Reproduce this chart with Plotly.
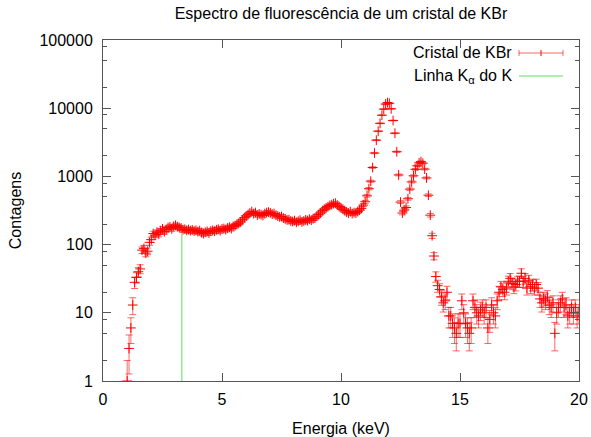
import numpy as np
import plotly.graph_objects as go

# Channel energies (keV) of the multichannel analyser
energia_kev = [
    1.016, 1.094, 1.172, 1.250, 1.328, 1.406, 1.484, 1.562,
    1.641, 1.719, 1.797, 1.875, 1.953, 2.031, 2.109, 2.188,
    2.266, 2.344, 2.422, 2.500, 2.578, 2.656, 2.734, 2.812,
    2.891, 2.969, 3.047, 3.125, 3.203, 3.281, 3.359, 3.438,
    3.516, 3.594, 3.672, 3.750, 3.828, 3.906, 3.984, 4.062,
    4.141, 4.219, 4.297, 4.375, 4.453, 4.531, 4.609, 4.688,
    4.766, 4.844, 4.922, 5.000, 5.078, 5.156, 5.234, 5.312,
    5.391, 5.469, 5.547, 5.625, 5.703, 5.781, 5.859, 5.938,
    6.016, 6.094, 6.172, 6.250, 6.328, 6.406, 6.484, 6.562,
    6.641, 6.719, 6.797, 6.875, 6.953, 7.031, 7.109, 7.188,
    7.266, 7.344, 7.422, 7.500, 7.578, 7.656, 7.734, 7.812,
    7.891, 7.969, 8.047, 8.125, 8.203, 8.281, 8.359, 8.438,
    8.516, 8.594, 8.672, 8.750, 8.828, 8.906, 8.984, 9.062,
    9.141, 9.219, 9.297, 9.375, 9.453, 9.531, 9.609, 9.688,
    9.766, 9.844, 9.922, 10.000, 10.078, 10.156, 10.234, 10.312,
    10.391, 10.469, 10.547, 10.625, 10.703, 10.781, 10.859, 10.938,
    11.016, 11.094, 11.172, 11.250, 11.328, 11.406, 11.484, 11.562,
    11.641, 11.719, 11.797, 11.875, 11.953, 12.031, 12.109, 12.188,
    12.266, 12.344, 12.422, 12.500, 12.578, 12.656, 12.734, 12.812,
    12.891, 12.969, 13.047, 13.125, 13.203, 13.281, 13.359, 13.438,
    13.516, 13.594, 13.672, 13.750, 13.828, 13.906, 13.984, 14.062,
    14.141, 14.219, 14.297, 14.375, 14.453, 14.531, 14.609, 14.688,
    14.766, 14.844, 14.922, 15.000, 15.078, 15.156, 15.234, 15.312,
    15.391, 15.469, 15.547, 15.625, 15.703, 15.781, 15.859, 15.938,
    16.016, 16.094, 16.172, 16.250, 16.328, 16.406, 16.484, 16.562,
    16.641, 16.719, 16.797, 16.875, 16.953, 17.031, 17.109, 17.188,
    17.266, 17.344, 17.422, 17.500, 17.578, 17.656, 17.734, 17.812,
    17.891, 17.969, 18.047, 18.125, 18.203, 18.281, 18.359, 18.438,
    18.516, 18.594, 18.672, 18.750, 18.828, 18.906, 18.984, 19.062,
    19.141, 19.219, 19.297, 19.375, 19.453, 19.531, 19.609, 19.688,
    19.766, 19.844, 19.922, 20.000,
]

# Counts per channel
contagens = [
    1, 3, 6, 13, 28, 33, 40, 44,
    83, 88, 75, 80, 108, 118, 145, 138, 152, 142, 160, 170,
    155, 165, 178, 182, 170, 185, 192, 183, 178, 175, 165, 168,
    162, 166, 160, 164, 158, 162, 155, 160, 150, 145, 152, 156, 148, 158, 162, 157, 165, 168, 160, 170,
    172, 166, 175, 180, 172, 185, 190, 198, 205, 215, 230, 248, 262, 275, 290, 305,
    285, 295, 270, 282, 275, 268, 285, 295, 300, 292, 280, 285, 270, 262, 255, 258,
    245, 238, 230, 232, 222, 218, 225, 212, 220, 228, 215, 222, 230, 225, 236, 228,
    240, 245, 262, 275, 290, 315, 330, 345, 360, 375, 385, 398, 405, 380, 360, 345,
    330, 315, 300, 290, 305, 285, 295, 290, 305, 320, 340, 380, 425, 520, 660, 850,
    1350, 2200, 3400, 4600, 6000, 7900, 9700, 11500, 12100, 11800, 9800, 6600, 4300, 2300, 1050, 420,
    290, 320, 350, 470, 650, 830, 1020, 1270, 1430, 1580, 1650, 1560, 1280, 950, 530, 270, 135, 68, 34,
    25, 22, 17, 14, 15, 20, 9, 9, 7, 6, 5, 7, 7, 15, 10, 7, 6, 5, 6, 15,
    12, 10, 9, 11, 12, 10, 12, 6, 8, 13, 10, 9, 15, 20, 24, 22, 20, 23, 29,
    32, 27, 24, 26, 29, 29, 38, 29, 32, 23, 30, 24, 26, 23, 26, 23, 16, 14, 16, 15,
    17, 13, 12, 14, 5, 10, 12, 14, 16, 12, 13, 9, 10, 12, 10, 12, 9, 10,
]

if len(energia_kev) != len(contagens):
    raise ValueError(f"{len(energia_kev)} energias vs {len(contagens)} contagens")

# Poisson counting uncertainty
erro = np.sqrt(np.array(contagens, dtype=float))

# K K-alpha line position and drawn height
linha_k_alpha_kev = 3.31
linha_k_alpha_altura = [1, 147]

y_tick_vals = [1, 10, 100, 1000, 10000, 100000]
y_tick_text = ["1", "10", "100", "1000", "10000", "100000"]
x_tick_vals = [0, 5, 10, 15, 20]

FONT = "Liberation Sans, Arial, sans-serif"
FS = 16
AXIS = "#555555"
RED = "#ff0000"
RED_BAR = "rgba(255,0,0,0.6)"
GREEN = "#94ea94"

W, H = 591, 437
ML, MR, MT, MB = 103, 12, 40, 56
PW, PH = W - ML - MR, H - MT - MB

fig = go.Figure()

fig.add_trace(go.Scatter(
    x=energia_kev, y=contagens, mode="markers",
    name="Cristal de KBr",
    marker=dict(symbol="cross-thin", size=7, color=RED,
                line=dict(color=RED, width=1)),
    error_y=dict(type="data", array=erro, visible=True,
                 color=RED_BAR, thickness=1, width=3.5),
    showlegend=False,
))

fig.add_trace(go.Scatter(
    x=[linha_k_alpha_kev, linha_k_alpha_kev], y=linha_k_alpha_altura,
    mode="lines", name="Linha Kα do K",
    line=dict(color=GREEN, width=1.5),
    showlegend=False,
))

# legend drawn gnuplot-style: label on the left, sample on the right
def px_x(p):
    return (p - ML) / PW

def px_y(p):
    return (H - MB - p) / PH

rows = [53, 76]
sx0, sx1 = px_x(519), px_x(563)
sxm = (sx0 + sx1) / 2
cap = 3 / PH

def seg(x0, x1, y0, y1, color, width=1):
    return dict(type="line", xref="paper", yref="paper", x0=x0, x1=x1,
                y0=y0, y1=y1, line=dict(color=color, width=width))

r0 = px_y(rows[0])
r1 = px_y(rows[1])
shapes = [
    seg(sx0, sx1, r0, r0, RED_BAR),
    seg(sx0, sx0, r0 - cap, r0 + cap, RED_BAR),
    seg(sx1, sx1, r0 - cap, r0 + cap, RED_BAR),
    seg(sxm, sxm, r0 - cap, r0 + cap, RED),
    seg(sx0, sx1, r1, r1, GREEN, 1.5),
]

annotations = [
    dict(text="Cristal de KBr", xref="paper", yref="paper",
         x=px_x(514), y=r0, xanchor="right", yanchor="middle",
         showarrow=False, font=dict(family=FONT, size=FS, color="#000")),
    dict(text="Linha K<sub>α</sub> do K", xref="paper", yref="paper",
         x=px_x(514), y=r1, xanchor="right", yanchor="middle",
         showarrow=False, font=dict(family=FONT, size=FS, color="#000")),
]

fig.update_layout(
    width=W, height=H,
    margin=dict(l=ML, r=MR, t=MT, b=MB, autoexpand=False),
    paper_bgcolor="white", plot_bgcolor="white",
    font=dict(family=FONT, size=FS, color="#000"),
    title=dict(text="Espectro de fluorescência de um cristal de KBr",
               x=0.5, xref="paper", y=1 - 13 / H, yref="container",
               xanchor="center", yanchor="middle",
               font=dict(family=FONT, size=FS, color="#000")),
    shapes=shapes,
    annotations=annotations,
    showlegend=False,
)

fig.update_xaxes(
    range=[0, 20], tickmode="array", tickvals=x_tick_vals,
    ticks="inside", ticklen=8, tickcolor=AXIS, tickwidth=1,
    showline=True, linecolor=AXIS, linewidth=1, mirror="ticks",
    showgrid=False, zeroline=False, automargin=False,
    ticklabelstandoff=4,
    tickfont=dict(family=FONT, size=FS, color="#000"),
    title=dict(text="Energia (keV)", standoff=16,
               font=dict(family=FONT, size=FS, color="#000")),
)

fig.update_yaxes(
    type="log", range=[0, 5], tickmode="array",
    tickvals=y_tick_vals, ticktext=y_tick_text,
    ticks="inside", ticklen=8, tickcolor=AXIS, tickwidth=1,
    showline=True, linecolor=AXIS, linewidth=1, mirror="ticks",
    showgrid=False, zeroline=False, automargin=False,
    ticklabelstandoff=6,
    tickfont=dict(family=FONT, size=FS, color="#000"),
    minor=dict(tickmode="array",
               tickvals=[m * 10 ** e for e in range(5) for m in (2, 5, 8)],
               ticks="inside", ticklen=4, tickcolor=AXIS, showgrid=False),
    title=dict(text="Contagens", standoff=13,
               font=dict(family=FONT, size=FS, color="#000")),
)

fig.write_html("out.html")
